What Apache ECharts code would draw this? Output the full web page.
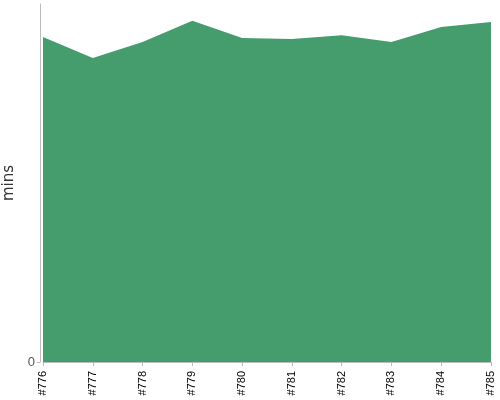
<!DOCTYPE html>
<html>
<head>
<meta charset="utf-8">
<script src="https://cdn.jsdelivr.net/npm/echarts@6/dist/echarts.min.js"></script>
<style>
    html, body { margin: 0; padding: 0; background: #fff; }
    #chart { width: 500px; height: 400px; }
</style>
</head>
<body>
<div id="chart"></div>
<script>
// builds #776 .. #785
var builds = ['#776', '#777', '#778', '#779', '#780', '#781', '#782', '#783', '#784', '#785'];
var durations = [90.8, 84.9, 89.4, 95.3, 90.5, 90.2, 91.3, 89.4, 93.6, 95.0];
var yMax = 100;
var yTicks = [0];

var chart = echarts.init(document.getElementById('chart'));
var option = {
    animation: false,
    grid: { left: 43, right: 9, top: 4, bottom: 38, containLabel: false, outerBoundsMode: 'none' },
    xAxis: {
        type: 'category',
        boundaryGap: false,
        data: builds,
        axisLine: { lineStyle: { color: '#bbb' } },
        axisTick: { alignWithLabel: true, length: 4, lineStyle: { color: '#bbb' } },
        axisLabel: {
            rotate: 90,
            color: '#000',
            fontSize: 11,
            fontFamily: 'Liberation Sans',
            margin: 9,
            interval: 0
        },
        splitLine: { show: false }
    },
    yAxis: {
        type: 'value',
        min: 0,
        max: yMax,
        interval: yMax,
        offset: 3,
        name: 'mins',
        nameLocation: 'middle',
        nameGap: 4,
        nameTextStyle: { color: '#333', fontSize: 15, fontFamily: 'DejaVu Sans' },
        axisLine: { show: true, lineStyle: { color: '#bbb' } },
        axisTick: { show: true, length: 3, customValues: yTicks, lineStyle: { color: '#bbb' } },
        axisLabel: {
            color: '#555',
            fontSize: 13,
            margin: 5,
            customValues: yTicks
        },
        splitLine: { show: false }
    },
    series: [{
        type: 'line',
        data: durations,
        symbol: 'none',
        lineStyle: { width: 0 },
        areaStyle: { color: '#459c6c', opacity: 1 }
    }]
};
chart.setOption(option);
</script>
</body>
</html>
